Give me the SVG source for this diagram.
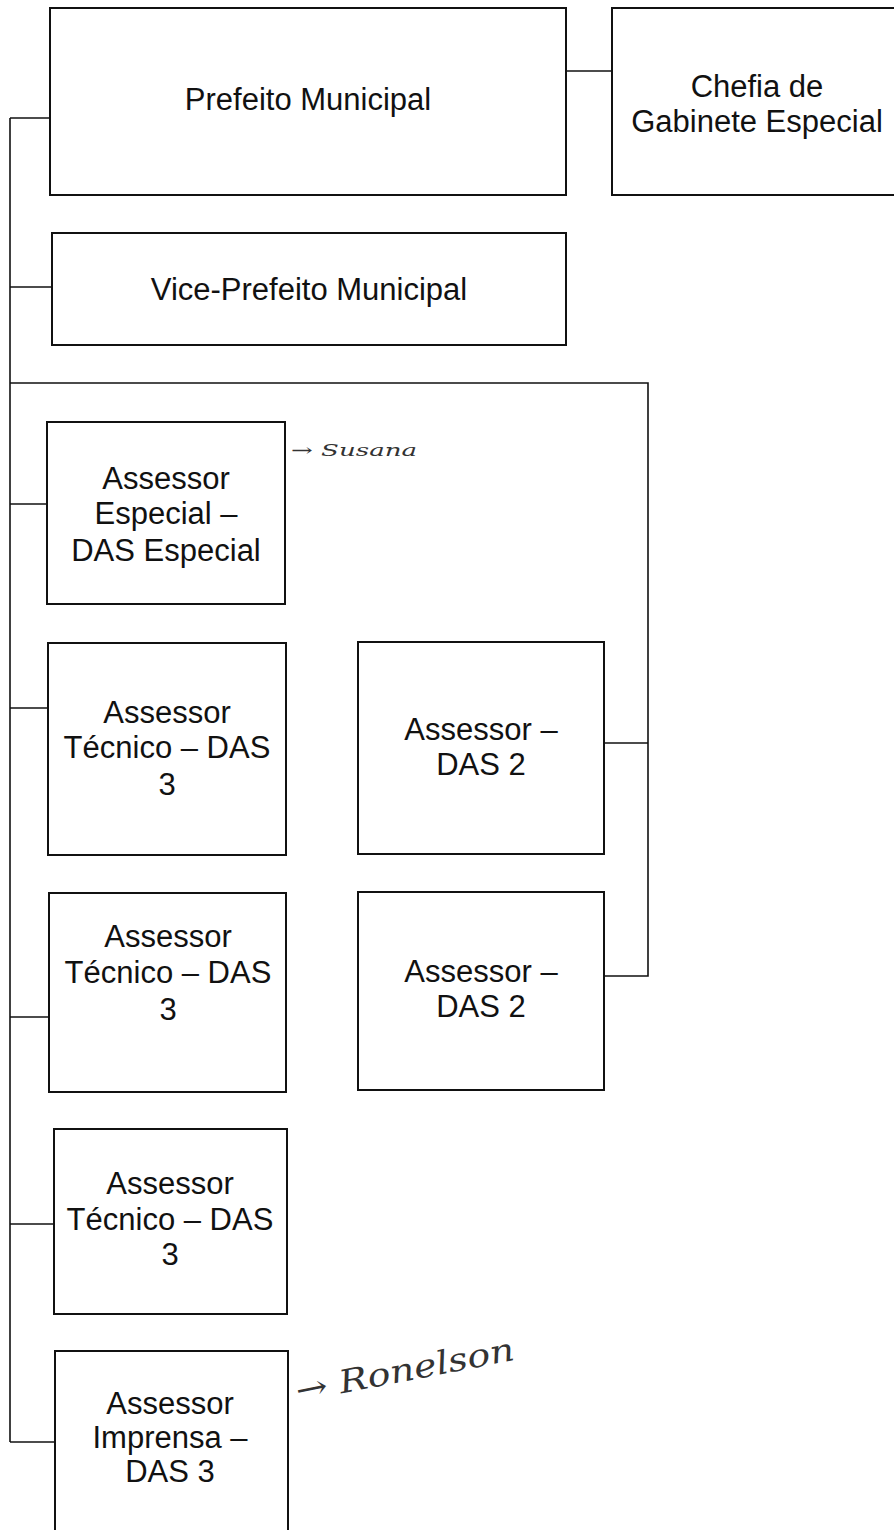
<svg xmlns="http://www.w3.org/2000/svg" width="894" height="1530" viewBox="0 0 894 1530">
<style>
.box{fill:#fff;stroke:#111;stroke-width:2}
.lbl{font-family:"Liberation Sans",Arial,sans-serif;font-size:31px;fill:#111;text-anchor:middle}
.conn{fill:none;stroke:#111;stroke-width:1.6}
.hand{font-family:"DejaVu Serif","Liberation Serif",serif;font-style:italic;fill:#333}
</style>
<rect width="894" height="1530" fill="#fff"/>
<g id="connectors">
<path class="conn" d="M566 71H612"/>
<path class="conn" d="M10 118V1442"/>
<path class="conn" d="M10 118H50"/>
<path class="conn" d="M10 287H52"/>
<path class="conn" d="M10 383H648V976H604"/>
<path class="conn" d="M604 743H648"/>
<path class="conn" d="M10 504H47"/>
<path class="conn" d="M10 708H48"/>
<path class="conn" d="M10 1017H49"/>
<path class="conn" d="M10 1224H54"/>
<path class="conn" d="M10 1442H55"/>
</g>
<g id="prefeito">
<rect class="box" x="50" y="8" width="516" height="187"/>
<text class="lbl" x="308" y="110">Prefeito Municipal</text>
</g>
<g id="chefia">
<rect class="box" x="612" y="8" width="296" height="187"/>
<text class="lbl" x="757" y="97">Chefia de</text>
<text class="lbl" x="757" y="132">Gabinete Especial</text>
</g>
<g id="vice">
<rect class="box" x="52" y="233" width="514" height="112"/>
<text class="lbl" x="309" y="300">Vice-Prefeito Municipal</text>
</g>
<g id="assessor-especial">
<rect class="box" x="47" y="422" width="238" height="182"/>
<text class="lbl" x="166" y="489">Assessor</text>
<text class="lbl" x="166" y="524">Especial –</text>
<text class="lbl" x="166" y="561">DAS Especial</text>
</g>
<g id="tecnico-1">
<rect class="box" x="48" y="643" width="238" height="212"/>
<text class="lbl" x="167" y="723">Assessor</text>
<text class="lbl" x="167" y="758">Técnico – DAS</text>
<text class="lbl" x="167" y="795">3</text>
</g>
<g id="das2-1">
<rect class="box" x="358" y="642" width="246" height="212"/>
<text class="lbl" x="481" y="740">Assessor –</text>
<text class="lbl" x="481" y="775">DAS 2</text>
</g>
<g id="tecnico-2">
<rect class="box" x="49" y="893" width="237" height="199"/>
<text class="lbl" x="168" y="947">Assessor</text>
<text class="lbl" x="168" y="983">Técnico – DAS</text>
<text class="lbl" x="168" y="1020">3</text>
</g>
<g id="das2-2">
<rect class="box" x="358" y="892" width="246" height="198"/>
<text class="lbl" x="481" y="982">Assessor –</text>
<text class="lbl" x="481" y="1017">DAS 2</text>
</g>
<g id="tecnico-3">
<rect class="box" x="54" y="1129" width="233" height="185"/>
<text class="lbl" x="170" y="1194">Assessor</text>
<text class="lbl" x="170" y="1230">Técnico – DAS</text>
<text class="lbl" x="170" y="1265">3</text>
</g>
<g id="imprensa">
<rect class="box" x="55" y="1351" width="233" height="200"/>
<text class="lbl" x="170" y="1414">Assessor</text>
<text class="lbl" x="170" y="1448">Imprensa –</text>
<text class="lbl" x="170" y="1482">DAS 3</text>
</g>
<g id="notes">
<text class="hand" x="291" y="456" font-size="17" textLength="126" lengthAdjust="spacingAndGlyphs">→ Susana</text>
<text class="hand" x="298" y="1402" font-size="32" textLength="222" lengthAdjust="spacingAndGlyphs" transform="rotate(-11 298 1402)">→ Ronelson</text>
</g>
</svg>
